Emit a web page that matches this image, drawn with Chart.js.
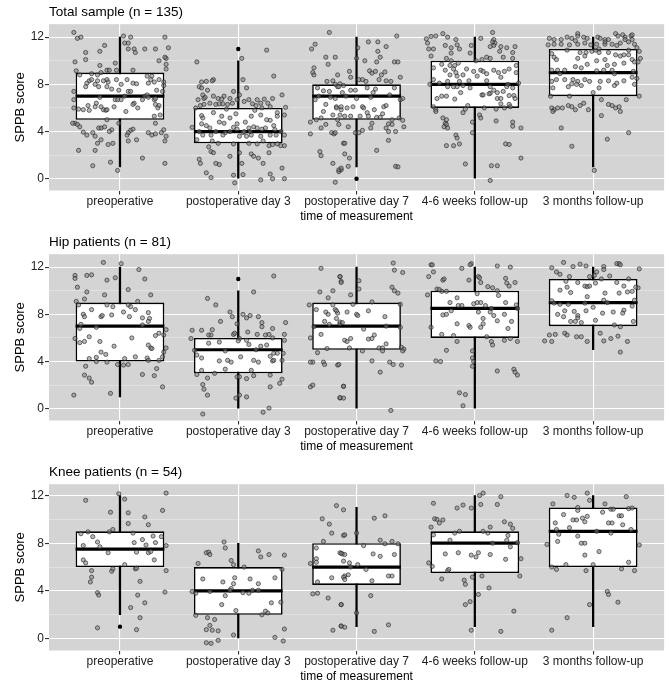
<!DOCTYPE html>
<html><head><meta charset="utf-8">
<script src="https://cdn.jsdelivr.net/npm/chart.js@4.4.0/dist/chart.umd.min.js"></script>
<style>
html,body{margin:0;padding:0;background:#fff;overflow:hidden;width:669px;height:687px;position:relative;}
.panel{position:absolute;left:0;width:669px;height:230px;}
</style></head><body>
<div class="panel" style="top:0"><canvas id="c1"></canvas></div>
<div class="panel" style="top:230px"><canvas id="c2"></canvas></div>
<div class="panel" style="top:460px"><canvas id="c3"></canvas></div>
<script>
// ---------- data ----------
const categories = ['preoperative','postoperative day 3','postoperative day 7','4-6 weeks follow-up','3 months follow-up'];
const yTicks = [0,2,4,6,8,10,12];
const panelTitles = ['Total sample (n = 135)','Hip patients (n = 81)','Knee patients (n = 54)'];

// box statistics
const totalQ1 = [5,3,5,6,7];
const totalMedian = [7,4,7,8,9];
const totalQ3 = [9,6,8,10,11];
const totalLow = [1,0,1,0,1];
const totalHigh = [12,10,12,12,12];
const totalOutliers = [[1,11],[2,0]];

const hipQ1 = [4,3,5,6,7];
const hipMedian = [7,5,7,8.5,9];
const hipQ3 = [9,6,9,10,11];
const hipLow = [1,0,0,0,5];
const hipHigh = [12,10,12,12,12];
const hipOutliers = [[1,11]];

const kneeQ1 = [6,2,4.5,5.5,6];
const kneeMedian = [7.5,4,6,8,9];
const kneeQ3 = [9,6,8,9,11];
const kneeLow = [2,0,1,1,1];
const kneeHigh = [12,8,11,12,12];
const kneeOutliers = [[0,1]];

// jittered observations: [offset from category, SPPB score]
const totalPre = [[-0.39,12.4],[-0.36,11.9],[-0.33,12.0],[0.03,12.1],[0.09,12.0],[0.04,11.5],[0.07,11.5],[0.38,12.0],[0.07,11.0],[0.12,11.0],[0.21,11.0],[0.30,11.0],[-0.13,11.3],[0.41,11.1],[-0.17,10.8],[-0.29,10.7],[0.13,10.7],[0.39,10.2],[0.38,10.3],[0.33,10.0],[-0.29,10.1],[-0.38,9.9],[-0.17,9.6],[-0.04,9.8],[0.39,9.7],[0.39,9.3],[-0.37,9.15],[-0.11,9.2],[-0.09,9.2],[-0.03,9.2],[0.11,9.2],[0.27,8.7],[0.23,8.7],[0.26,8.4],[-0.34,8.8],[-0.24,8.9],[-0.19,8.8],[-0.16,9.0],[-0.11,8.4],[-0.26,8.3],[-0.24,8.4],[-0.19,8.3],[-0.28,8.1],[-0.21,8.0],[-0.14,8.3],[-0.10,8.2],[-0.03,8.4],[0.06,8.4],[0.11,8.1],[0.14,8.05],[0.24,8.1],[0.29,8.2],[0.33,8.4],[0.37,7.9],[0.37,8.2],[0.01,8.0],[-0.29,7.8],[-0.18,7.8],[-0.07,7.6],[-0.01,7.5],[-0.11,7.8],[0.31,7.5],[-0.39,7.4],[0.36,7.4],[0.07,7.4],[0.09,7.4],[-0.17,6.9],[0.04,7.0],[0.21,7.0],[0.23,7.1],[0.24,6.9],[-0.39,6.7],[-0.04,6.7],[-0.02,6.7],[0.01,6.7],[0.19,6.7],[0.29,6.7],[0.30,6.8],[-0.20,6.4],[0.12,6.4],[0.11,6.3],[0.30,6.3],[0.33,6.2],[-0.27,6.2],[-0.21,6.1],[-0.05,6.1],[-0.16,6.1],[-0.39,6.0],[-0.14,5.85],[-0.12,5.8],[-0.11,5.85],[-0.35,5.9],[-0.31,5.85],[-0.26,5.8],[0.15,6.0],[0.32,6.0],[0.05,5.7],[0.34,5.4],[0.29,5.3],[-0.11,5.0],[-0.01,4.7],[0.30,4.7],[-0.38,4.7],[-0.40,4.7],[-0.36,4.6],[-0.34,4.4],[-0.18,4.3],[-0.16,4.3],[-0.13,4.4],[0.09,4.1],[0.11,4.2],[0.37,4.15],[-0.31,3.95],[-0.07,4.15],[-0.09,4.0],[0.07,3.9],[0.06,3.7],[-0.28,3.7],[-0.23,3.9],[-0.21,3.6],[0.24,3.9],[0.27,3.7],[0.30,3.8],[0.35,3.9],[0.39,3.6],[0.14,3.3],[0.07,3.2],[0.38,3.2],[-0.16,3.3],[-0.19,3.0],[-0.10,2.9],[-0.06,3.0],[-0.35,2.4],[-0.21,2.4],[0.19,1.75],[-0.08,1.4],[0.38,1.3],[-0.23,1.1],[-0.02,0.7]];
const totalDay3 = [[-0.35,9.9],[0.03,10.2],[0.24,10.9],[0.30,8.7],[0.07,7.7],[0.04,8.4],[-0.21,8.4],[-0.22,8.3],[-0.27,8.25],[-0.31,8.2],[-0.33,7.8],[-0.31,7.7],[-0.26,7.5],[-0.04,7.4],[-0.12,7.0],[0.01,7.1],[0.37,7.1],[-0.30,7.1],[-0.34,6.7],[-0.29,6.8],[-0.21,7.0],[-0.17,6.8],[-0.14,6.75],[-0.07,6.8],[-0.01,6.7],[0.05,6.55],[0.09,6.7],[0.16,6.7],[0.19,6.4],[0.22,6.75],[0.29,6.8],[0.40,6.05],[-0.36,6.0],[-0.32,6.2],[-0.29,6.3],[-0.24,6.4],[-0.19,6.3],[-0.16,6.35],[-0.13,6.35],[-0.09,6.3],[-0.05,6.4],[0.12,6.35],[0.25,6.4],[0.27,6.1],[0.33,5.6],[0.39,5.4],[-0.31,5.35],[-0.30,5.15],[-0.21,5.6],[-0.14,5.3],[-0.07,5.15],[0.11,5.3],[0.19,5.4],[0.24,5.0],[0.27,4.95],[0.33,5.3],[-0.31,4.65],[-0.27,4.5],[-0.16,4.8],[-0.12,4.7],[-0.01,4.65],[0.06,4.8],[0.13,4.4],[-0.39,4.35],[-0.24,4.3],[-0.04,4.35],[-0.01,4.2],[0.09,4.3],[0.16,4.3],[0.20,4.2],[0.23,4.3],[-0.33,4.0],[-0.19,4.0],[-0.11,3.9],[-0.07,4.0],[0.04,3.9],[0.10,4.0],[0.31,4.15],[0.36,4.0],[-0.30,3.7],[-0.23,3.7],[-0.13,3.7],[0.01,3.6],[0.07,3.6],[0.11,3.7],[0.19,3.6],[0.27,3.7],[0.32,3.7],[0.39,3.7],[-0.22,3.2],[-0.17,3.0],[-0.04,2.95],[0.09,3.0],[0.16,2.95],[0.21,3.2],[0.26,2.8],[0.29,2.9],[0.33,2.95],[0.36,2.8],[0.39,2.8],[-0.23,2.3],[-0.21,2.2],[-0.07,1.9],[0.01,2.2],[0.11,2.1],[0.13,1.9],[0.17,1.75],[0.26,2.2],[-0.33,1.65],[-0.32,1.3],[-0.19,1.3],[-0.16,1.2],[0.03,1.3],[0.21,1.3],[0.37,0.9],[-0.27,0.5],[-0.23,0.1],[-0.04,0.3],[0.04,0.35],[0.27,0.4],[0.19,-0.1],[0.29,0.0],[0.39,0.0],[-0.03,-0.35],[-0.28,6.9],[0.15,6.2],[-0.10,5.9],[0.30,4.5],[-0.35,3.3],[0.20,6.0],[0.05,4.0],[-0.25,2.7],[0.14,5.8],[-0.02,5.5]];
const totalDay7 = [[-0.23,12.4],[-0.35,11.4],[-0.38,11.0],[-0.26,10.3],[-0.18,10.3],[-0.24,9.7],[-0.37,9.0],[-0.36,8.8],[-0.16,8.8],[-0.25,8.25],[-0.20,8.3],[-0.33,7.7],[-0.28,7.45],[-0.23,7.4],[-0.16,7.8],[-0.14,8.05],[-0.35,6.7],[-0.26,6.3],[-0.17,6.1],[-0.13,5.85],[-0.30,5.15],[-0.20,5.4],[-0.16,5.0],[-0.39,4.8],[-0.30,4.3],[-0.21,3.9],[-0.19,3.8],[-0.39,3.8],[-0.11,3.0],[-0.31,2.3],[-0.30,1.95],[-0.20,1.3],[-0.15,0.6],[-0.13,0.75],[-0.18,-0.3],[0.01,11.1],[0.10,11.6],[0.18,11.6],[0.25,11.2],[0.34,12.1],[0.18,10.8],[0.20,10.3],[0.07,10.0],[0.17,9.9],[0.32,9.9],[0.35,9.9],[0.0,10.2],[0.11,9.15],[0.16,9.1],[0.24,9.05],[0.13,8.95],[0.02,8.4],[0.05,8.4],[0.08,8.25],[0.19,8.4],[0.25,8.3],[0.29,8.25],[-0.11,7.9],[-0.05,7.5],[-0.01,7.5],[0.09,7.7],[0.16,7.6],[0.32,7.7],[-0.18,8.0],[-0.15,7.8],[-0.09,7.0],[-0.18,6.8],[0.39,6.8],[0.37,6.7],[-0.17,6.0],[-0.13,6.1],[-0.08,6.0],[-0.03,6.1],[0.05,6.1],[0.06,6.0],[0.15,5.85],[0.23,6.1],[0.25,6.2],[-0.14,5.4],[-0.10,5.3],[-0.05,5.3],[0.03,5.3],[0.10,5.3],[0.17,5.2],[0.20,5.2],[0.30,5.0],[0.36,5.15],[0.39,4.95],[-0.15,4.6],[-0.07,4.4],[0.13,4.7],[0.27,4.65],[0.30,4.6],[0.40,4.4],[-0.18,3.9],[-0.01,3.9],[0.02,3.9],[0.05,4.1],[0.12,4.3],[0.25,4.3],[0.27,4.0],[-0.10,3.0],[0.27,3.25],[0.17,2.4],[-0.10,2.1],[-0.06,1.75],[-0.07,1.05],[-0.15,0.75],[-0.13,0.9],[0.33,1.05],[0.35,1.0],[-0.32,7.0],[-0.22,6.9],[0.28,7.1],[0.12,6.9],[-0.28,5.7],[0.09,5.6],[-0.36,9.4],[0.21,8.8],[-0.05,8.6],[0.33,4.0],[-0.26,4.6],[0.0,6.8],[-0.12,7.3],[0.14,7.3],[0.22,5.5],[-0.06,9.1],[0.37,8.6],[-0.34,5.0]];
const totalWeeks = [[-0.41,11.85],[-0.37,12.06],[-0.33,12.1],[-0.27,12.3],[-0.23,12.0],[-0.40,11.5],[-0.39,11.0],[-0.35,11.0],[-0.25,11.3],[-0.20,11.1],[-0.15,11.35],[-0.13,11.0],[-0.16,11.8],[-0.03,11.3],[0.15,12.4],[0.16,11.8],[0.15,11.6],[0.17,11.5],[0.16,11.3],[0.13,11.2],[0.22,11.2],[0.27,11.1],[0.34,11.2],[0.32,10.7],[0.21,10.8],[0.10,10.3],[0.13,10.2],[0.06,10.1],[-0.37,10.4],[-0.20,10.65],[-0.04,10.65],[-0.24,10.2],[-0.28,9.7],[-0.21,9.6],[-0.17,9.6],[-0.14,9.8],[-0.35,9.4],[-0.18,9.3],[-0.07,9.3],[-0.01,9.1],[0.05,9.2],[0.07,9.1],[0.16,9.2],[0.25,9.1],[0.29,9.3],[0.35,9.0],[-0.21,8.8],[-0.15,8.7],[-0.10,8.8],[0.02,8.7],[0.10,8.9],[0.22,8.6],[-0.35,8.4],[-0.23,8.25],[-0.13,8.25],[0.37,8.1],[-0.23,7.8],[-0.18,7.8],[-0.15,7.8],[-0.10,7.9],[-0.04,7.7],[0.13,7.8],[0.16,7.5],[0.19,7.3],[0.24,7.4],[0.27,7.8],[0.32,7.7],[-0.28,7.0],[-0.24,7.0],[-0.17,6.75],[0.06,7.1],[0.07,7.1],[0.13,7.25],[0.19,6.8],[0.22,6.8],[0.29,7.05],[0.33,7.05],[0.34,6.8],[-0.35,6.1],[-0.33,5.85],[-0.33,5.7],[-0.10,5.6],[0.22,6.35],[0.29,6.3],[0.25,6.0],[-0.27,5.15],[-0.24,5.0],[-0.25,4.7],[-0.24,4.6],[-0.26,4.4],[-0.23,4.3],[0.04,5.4],[0.05,5.15],[0.18,4.9],[0.32,4.8],[0.32,4.45],[0.39,4.3],[-0.02,4.8],[-0.02,3.9],[-0.16,3.7],[-0.15,3.45],[-0.13,2.95],[-0.24,2.8],[-0.18,2.8],[0.26,2.95],[0.29,2.9],[0.39,1.75],[-0.08,1.25],[0.14,1.1],[0.19,1.1],[0.13,-0.15],[-0.30,8.1],[0.08,6.0],[-0.06,6.2],[0.20,9.0],[0.01,10.0],[-0.38,8.0],[0.30,6.1],[-0.12,7.3],[0.10,8.3],[0.35,9.6],[-0.08,5.9],[0.24,10.3],[-0.20,10.0],[0.05,11.9],[-0.32,6.8],[0.18,5.9],[-0.05,8.3],[0.28,8.0],[-0.16,9.0],[0.12,7.2],[0.32,10.2],[-0.25,9.2]];
const totalMonths = [[-0.37,11.9],[-0.33,11.8],[-0.27,11.8],[-0.22,12.0],[-0.18,11.9],[-0.13,12.3],[-0.13,12.1],[-0.08,12.0],[-0.05,11.9],[0.04,12.0],[0.06,11.9],[0.10,11.8],[0.13,11.8],[0.19,12.3],[0.21,12.1],[0.25,12.2],[0.27,12.0],[0.32,12.1],[0.33,12.2],[0.27,11.8],[0.30,11.6],[0.33,11.8],[0.35,11.4],[-0.38,11.35],[-0.33,11.4],[-0.27,11.4],[-0.20,11.35],[-0.13,11.4],[-0.07,11.5],[-0.02,11.35],[0.03,11.4],[0.10,11.4],[0.16,11.4],[0.23,11.5],[0.20,11.3],[0.37,11.1],[0.39,10.8],[0.40,10.2],[0.33,10.1],[0.35,9.9],[0.30,10.5],[0.26,10.5],[0.23,10.4],[0.19,10.5],[0.13,10.7],[0.05,10.7],[0.02,10.9],[-0.01,10.8],[-0.06,10.7],[-0.11,10.7],[-0.07,10.4],[-0.13,10.2],[-0.33,10.3],[-0.31,10.1],[0.03,10.0],[0.10,10.1],[0.18,9.7],[0.26,9.8],[-0.35,9.2],[-0.30,9.2],[-0.24,9.2],[-0.15,9.5],[-0.10,9.4],[0.03,9.15],[0.09,9.2],[0.16,9.2],[0.34,9.1],[-0.35,8.25],[-0.31,8.4],[-0.24,8.4],[-0.17,8.4],[-0.13,8.25],[-0.07,8.4],[-0.03,8.25],[0.06,8.25],[0.13,8.3],[0.26,8.3],[0.33,8.6],[0.37,8.5],[-0.34,7.7],[-0.21,7.8],[-0.18,8.05],[-0.14,8.0],[-0.10,7.9],[0.05,7.7],[0.18,7.9],[0.39,7.0],[-0.35,6.0],[-0.33,5.85],[-0.34,5.7],[-0.30,6.0],[-0.26,6.0],[-0.21,6.2],[-0.18,6.1],[-0.15,5.85],[-0.11,6.2],[-0.04,5.85],[0.07,6.7],[0.16,6.2],[0.19,6.0],[0.22,6.1],[0.23,5.7],[0.13,6.3],[0.07,5.35],[-0.27,4.3],[0.30,3.9],[0.12,3.35],[-0.18,2.75],[0.01,0.7],[0.05,11.0],[-0.22,10.9],[0.30,10.9],[-0.35,10.6],[0.12,9.6],[-0.05,9.7],[0.38,9.9],[-0.28,8.9],[0.20,8.1],[0.0,7.3],[-0.20,7.0],[0.28,6.7],[-0.08,6.4],[0.35,8.0],[0.10,11.6],[-0.15,11.7],[0.18,8.9],[-0.36,7.0]];

const hipPre = [[-0.14,12.4],[0.01,12.3],[-0.38,11.3],[-0.38,11.05],[-0.28,11.3],[-0.24,11.35],[-0.04,11.1],[0.16,11.8],[0.21,11.0],[-0.11,10.9],[-0.36,10.3],[-0.28,9.9],[0.07,10.1],[0.26,9.65],[-0.13,9.65],[-0.30,9.3],[-0.37,9.1],[-0.35,8.8],[-0.24,8.4],[-0.11,8.8],[-0.06,8.65],[0.07,8.8],[0.09,8.65],[0.13,8.4],[0.24,8.15],[0.03,8.2],[-0.31,8.0],[-0.30,7.8],[-0.16,7.8],[-0.15,7.9],[-0.07,7.95],[0.08,7.8],[0.19,7.7],[0.25,7.65],[0.24,7.4],[-0.33,7.15],[-0.34,6.8],[0.19,7.1],[0.33,6.4],[0.39,6.7],[0.37,6.25],[-0.38,5.95],[-0.34,5.6],[-0.30,5.7],[-0.26,6.1],[-0.17,5.7],[0.24,5.4],[0.26,5.15],[0.27,5.1],[0.39,5.15],[-0.16,4.8],[-0.12,4.6],[-0.20,4.35],[-0.26,4.25],[-0.11,3.95],[-0.02,3.75],[0.03,3.7],[0.04,4.25],[0.07,3.75],[0.13,4.4],[0.23,4.3],[0.24,4.1],[0.33,4.1],[0.36,4.4],[0.37,4.8],[-0.29,3.6],[-0.30,2.85],[-0.26,2.6],[-0.24,2.25],[0.31,3.4],[0.19,2.9],[0.29,2.8],[0.36,1.85],[-0.08,1.3],[-0.39,1.15],[0.30,6.2],[-0.20,6.9],[0.10,6.0],[-0.05,5.3],[0.15,9.1],[-0.20,4.0]];
const hipDay3 = [[0.30,11.25],[0.13,9.9],[-0.26,9.35],[-0.19,8.8],[0.04,8.0],[-0.07,8.2],[-0.05,7.8],[0.17,7.8],[0.10,7.9],[0.07,7.7],[-0.15,7.4],[-0.01,7.2],[0.20,7.3],[0.20,6.95],[0.29,6.8],[0.40,7.3],[-0.39,6.65],[-0.31,6.65],[-0.22,6.7],[-0.04,6.3],[-0.03,6.4],[0.08,6.5],[0.16,6.3],[0.23,6.25],[0.26,6.3],[0.39,6.3],[-0.40,5.95],[-0.25,6.25],[-0.23,6.25],[0.01,5.95],[0.07,5.8],[0.29,6.0],[0.39,5.8],[-0.16,5.65],[-0.25,5.55],[0.0,5.75],[0.09,5.45],[0.24,5.4],[0.19,5.3],[-0.37,4.95],[-0.35,4.55],[-0.31,4.3],[-0.11,4.9],[0.30,4.7],[0.33,4.7],[-0.16,4.05],[-0.09,4.1],[-0.06,3.95],[0.02,4.4],[0.13,4.1],[0.17,3.95],[0.27,4.45],[0.29,4.05],[0.30,4.1],[0.37,4.1],[0.38,4.7],[-0.31,3.25],[-0.11,3.35],[0.11,3.25],[-0.35,2.9],[-0.26,2.6],[-0.01,2.7],[0.01,2.7],[0.07,2.55],[0.13,2.8],[0.27,2.85],[0.37,2.5],[0.35,2.15],[0.27,1.85],[-0.30,2.05],[-0.29,1.65],[-0.26,1.15],[-0.02,0.9],[0.01,1.15],[0.07,1.0],[-0.30,-0.45],[0.21,-0.3],[0.26,0.05],[-0.20,3.0],[0.15,5.0]];
const hipDay7 = [[-0.30,11.9],[-0.14,11.2],[-0.13,10.8],[-0.31,9.9],[-0.20,10.0],[-0.24,9.4],[-0.20,8.8],[-0.40,8.8],[-0.34,8.4],[-0.26,8.2],[-0.24,8.0],[-0.16,8.1],[-0.17,7.65],[-0.27,7.4],[-0.23,7.15],[-0.14,7.2],[-0.36,6.95],[-0.30,6.3],[-0.39,6.0],[-0.10,5.8],[-0.33,4.75],[-0.37,3.95],[-0.39,3.95],[-0.28,3.95],[-0.27,3.75],[-0.16,3.7],[-0.11,1.9],[-0.39,1.85],[-0.37,2.0],[-0.14,0.9],[-0.11,0.9],[0.31,12.35],[0.32,11.75],[0.39,11.55],[-0.14,11.2],[-0.13,10.7],[0.02,10.85],[0.02,10.15],[0.30,10.3],[0.32,10.0],[0.35,9.8],[-0.05,9.65],[-0.03,8.85],[0.13,9.05],[-0.18,8.4],[-0.17,8.3],[-0.08,8.2],[0.0,8.0],[0.01,7.9],[0.10,8.3],[0.24,7.8],[0.37,8.85],[-0.14,7.35],[-0.12,7.3],[0.37,6.9],[0.06,6.75],[0.15,6.25],[0.10,5.9],[0.13,5.95],[-0.05,5.95],[-0.08,5.7],[0.25,7.0],[0.25,5.5],[0.19,5.15],[0.22,5.15],[0.22,4.9],[0.38,5.2],[0.40,5.05],[0.39,4.9],[0.05,4.9],[-0.06,5.15],[0.13,4.05],[0.28,3.95],[0.31,3.75],[0.38,3.7],[0.20,3.1],[-0.15,3.75],[-0.11,1.9],[-0.14,0.95],[0.29,-0.15],[-0.25,5.1]];
const hipWeeks = [[-0.37,12.2],[-0.36,12.2],[-0.35,11.6],[-0.39,11.2],[-0.27,10.9],[-0.26,11.0],[-0.11,11.9],[-0.03,12.3],[-0.04,12.2],[0.03,11.2],[0.04,11.1],[0.05,10.7],[0.19,12.1],[0.11,10.35],[0.15,10.25],[0.26,11.05],[0.27,10.65],[0.29,10.4],[0.34,10.7],[-0.40,9.65],[-0.32,10.15],[-0.28,9.95],[-0.24,9.95],[-0.21,9.0],[-0.15,9.4],[-0.11,8.75],[0.02,9.75],[-0.01,8.9],[0.02,9.0],[0.05,9.0],[0.09,8.75],[0.14,8.5],[0.19,10.0],[0.26,9.0],[0.35,8.8],[-0.14,8.75],[-0.27,7.95],[-0.24,8.0],[-0.15,7.2],[-0.05,7.05],[-0.04,6.9],[0.03,8.2],[0.07,7.65],[0.07,7.2],[0.05,6.9],[0.13,8.2],[0.16,7.9],[0.19,7.45],[0.28,6.8],[0.31,7.4],[0.36,8.5],[-0.37,6.9],[-0.28,6.3],[-0.15,5.7],[0.14,5.7],[0.15,5.4],[0.25,5.8],[0.30,5.95],[0.36,5.7],[-0.24,4.95],[-0.02,4.9],[-0.02,4.3],[-0.01,4.0],[-0.02,3.6],[-0.33,4.05],[-0.29,4.0],[0.19,3.2],[0.33,3.35],[0.34,3.1],[0.36,2.85],[-0.13,1.35],[-0.08,1.2],[-0.10,0.25],[-0.30,10.1],[0.20,9.6],[-0.18,6.2],[0.10,6.1],[0.25,8.0],[-0.05,10.9],[0.30,12.0],[-0.20,8.3]];
const hipMonths = [[-0.35,11.95],[-0.31,11.6],[-0.25,12.4],[-0.17,12.05],[-0.11,12.25],[-0.06,12.1],[0.09,12.05],[0.09,11.8],[0.20,12.3],[0.22,12.3],[0.23,12.2],[0.39,11.85],[-0.28,11.4],[0.03,11.6],[0.01,11.3],[-0.03,11.2],[0.14,11.25],[-0.23,10.8],[-0.13,10.7],[-0.07,10.4],[-0.05,10.35],[-0.03,10.4],[0.02,10.65],[0.07,11.0],[0.20,10.7],[0.26,10.4],[0.38,10.25],[-0.28,10.05],[-0.22,10.3],[-0.19,9.85],[0.10,9.8],[0.22,9.8],[0.29,9.9],[0.33,9.95],[0.36,10.3],[-0.35,9.15],[-0.33,8.95],[-0.28,8.85],[-0.21,8.85],[-0.07,8.95],[0.09,9.2],[0.33,8.7],[-0.24,8.3],[-0.16,8.25],[-0.06,8.3],[0.08,8.1],[0.17,8.2],[0.26,8.35],[0.25,8.1],[-0.25,7.8],[-0.13,7.9],[-0.13,7.7],[-0.19,7.4],[-0.15,7.4],[-0.10,7.3],[0.02,7.5],[0.34,7.4],[-0.37,6.25],[-0.32,6.3],[-0.24,6.4],[-0.22,6.25],[-0.14,6.1],[-0.10,6.1],[0.06,6.4],[0.21,6.15],[0.23,6.95],[-0.41,5.75],[-0.35,5.7],[-0.05,5.7],[0.09,5.75],[0.15,5.95],[0.29,5.7],[0.23,4.8],[0.12,9.0],[-0.30,8.0],[0.30,11.0],[-0.05,9.5],[0.18,7.1],[-0.20,11.2],[0.35,9.2],[0.0,8.6]];

const kneePre = [[-0.29,11.6],[-0.01,12.15],[0.04,11.7],[0.39,12.2],[-0.08,10.6],[0.07,10.55],[0.21,10.2],[0.24,9.55],[0.36,10.75],[0.07,9.65],[-0.33,8.8],[-0.27,8.95],[-0.23,8.55],[-0.19,8.1],[-0.17,7.7],[-0.31,7.8],[-0.09,8.95],[-0.06,9.15],[0.11,8.85],[0.19,8.3],[0.12,8.05],[0.28,8.6],[0.30,8.05],[0.35,8.55],[0.39,7.8],[-0.10,7.2],[0.14,7.25],[0.24,7.2],[0.22,7.85],[0.26,7.3],[0.29,6.6],[-0.31,6.6],[-0.29,6.35],[0.04,6.2],[-0.24,5.7],[-0.07,5.65],[-0.06,5.85],[0.13,5.85],[0.14,5.9],[0.39,5.7],[-0.24,5.15],[-0.25,4.75],[0.17,4.8],[-0.19,3.85],[-0.18,3.65],[0.15,3.65],[0.38,3.9],[0.21,3.0],[0.09,2.6],[0.17,1.75],[-0.19,0.9],[0.14,0.75]];
const kneeDay3 = [[-0.12,8.1],[-0.11,7.6],[-0.27,7.2],[-0.25,7.25],[-0.24,7.05],[-0.06,6.55],[0.17,7.35],[0.26,7.05],[0.19,6.85],[0.39,7.0],[-0.34,6.3],[-0.04,6.2],[0.37,5.8],[-0.03,5.1],[0.10,5.0],[0.31,5.1],[-0.13,4.75],[-0.04,4.6],[0.17,4.6],[-0.39,3.95],[-0.36,3.8],[-0.24,3.95],[-0.06,4.2],[-0.07,4.05],[0.04,3.85],[0.09,3.8],[0.12,4.05],[0.17,4.05],[-0.11,3.6],[0.28,3.0],[0.36,3.05],[-0.14,2.85],[-0.02,2.35],[0.23,2.3],[0.25,2.15],[-0.36,1.95],[-0.26,1.75],[-0.20,1.6],[-0.24,1.1],[-0.22,0.7],[-0.27,0.75],[-0.17,0.65],[-0.04,0.3],[0.39,0.8],[0.31,0.1],[0.38,-0.2],[-0.27,-0.35],[-0.23,-0.4],[-0.17,-0.15],[0.05,6.0],[-0.30,5.0],[0.20,2.0]];
const kneeDay7 = [[-0.17,11.15],[-0.11,10.8],[-0.29,10.05],[-0.23,9.6],[-0.21,8.85],[-0.28,8.15],[-0.11,8.65],[-0.34,7.6],[-0.39,6.3],[-0.34,6.7],[-0.34,6.4],[-0.14,7.2],[-0.12,7.1],[-0.11,6.5],[-0.33,4.75],[-0.21,5.1],[-0.10,5.25],[-0.37,3.75],[-0.33,3.8],[-0.24,3.4],[-0.13,2.85],[-0.20,0.7],[-0.13,1.05],[0.15,10.1],[0.24,10.3],[-0.10,8.7],[0.0,8.85],[0.20,8.25],[0.24,7.95],[0.30,8.15],[0.35,7.95],[0.06,7.8],[-0.13,7.15],[-0.10,7.05],[0.14,7.1],[0.32,7.05],[-0.06,6.35],[0.01,6.2],[0.08,5.8],[-0.07,5.35],[-0.11,5.15],[-0.10,4.95],[0.13,4.85],[0.27,5.25],[0.30,5.25],[0.12,3.6],[-0.13,2.85],[0.0,2.15],[-0.13,1.05],[-0.10,0.95],[0.15,0.6],[0.27,1.15],[-0.05,6.0],[0.20,6.9]];
const kneeWeeks = [[0.04,12.0],[0.07,12.2],[0.22,11.9],[0.05,11.25],[-0.03,10.95],[0.19,11.25],[-0.35,11.35],[-0.15,10.95],[-0.34,10.05],[-0.30,9.7],[-0.27,9.95],[-0.37,9.35],[-0.32,10.0],[0.25,9.8],[0.32,9.25],[0.13,9.35],[-0.17,8.85],[-0.13,9.0],[0.07,9.0],[0.11,8.85],[-0.35,8.7],[0.28,8.65],[-0.21,8.25],[0.27,8.25],[0.36,8.05],[0.30,7.7],[0.13,7.05],[-0.14,7.2],[-0.03,7.0],[0.01,6.85],[0.03,7.2],[0.26,6.65],[0.39,6.7],[-0.39,6.35],[-0.36,6.05],[-0.23,5.7],[-0.22,5.8],[0.38,5.25],[-0.28,5.0],[-0.02,5.15],[0.06,5.25],[-0.09,4.9],[-0.08,4.55],[0.12,4.25],[0.03,3.7],[-0.04,3.1],[-0.08,2.85],[0.33,2.3],[-0.03,0.7],[0.22,0.6],[0.15,8.0],[-0.25,7.1],[0.30,9.6],[-0.10,11.2]];
const kneeMonths = [[-0.22,12.0],[-0.16,11.85],[-0.05,12.2],[-0.03,11.6],[-0.34,11.3],[-0.13,11.0],[-0.13,10.75],[0.08,10.6],[0.15,10.85],[0.17,10.85],[0.30,10.9],[0.33,10.95],[-0.17,9.95],[-0.14,9.95],[-0.09,10.1],[-0.05,10.25],[-0.07,9.8],[0.22,10.3],[0.24,10.3],[-0.32,9.7],[0.13,9.7],[0.16,9.7],[0.25,9.55],[-0.31,9.15],[0.32,9.15],[0.03,9.0],[0.15,8.85],[-0.29,8.75],[-0.13,8.6],[-0.30,8.15],[-0.10,8.0],[-0.07,8.0],[-0.39,7.9],[0.39,7.85],[-0.07,7.0],[-0.23,6.2],[0.0,6.2],[-0.35,6.0],[-0.31,5.8],[-0.06,5.7],[0.24,5.85],[0.35,5.7],[0.12,3.95],[0.13,3.7],[0.21,3.05],[-0.03,2.85],[-0.22,1.75],[-0.35,0.7],[0.28,11.9],[-0.25,10.4],[0.05,7.3],[0.30,6.4],[-0.20,9.3],[0.10,11.3]];

const totalPts = [totalPre,totalDay3,totalDay7,totalWeeks,totalMonths];
const hipPts = [hipPre,hipDay3,hipDay7,hipWeeks,hipMonths];
const kneePts = [kneePre,kneeDay3,kneeDay7,kneeWeeks,kneeMonths];

// ---------- drawing ----------
const FONT = "'Liberation Sans', Arial, sans-serif";
const BOX_WIDTH = 0.75;

const panelBg = {
  id: 'panelBg',
  beforeDraw(chart) {
    const {ctx, chartArea: a} = chart;
    ctx.save();
    ctx.fillStyle = '#d4d4d4';
    ctx.fillRect(a.left, a.top, a.right - a.left, a.bottom - a.top);
    ctx.restore();
  }
};

function halfBox(chart) {
  const s = chart.scales.x;
  return s.getPixelForValue(BOX_WIDTH / 2) - s.getPixelForValue(0);
}

function makePanel(id, title, q1, med, q3, lo, hi, pts, outl, yMin, yMax) {
  const idx = categories.map((_, i) => i);
  const isMajor = c => c.tick && c.tick.value % 4 === 0;
  new Chart(document.getElementById(id), {
    type: 'bar',
    plugins: [panelBg],
    data: {
      datasets: [
        { type: 'bar', data: idx.map(i => ({x: i, y: [lo[i], hi[i]]})),
          backgroundColor: '#000', borderWidth: 0, barThickness: 1.6, grouped: false, order: 5 },
        { type: 'bar', data: idx.map(i => ({x: i, y: [q1[i], q3[i]]})),
          backgroundColor: '#fff', borderColor: '#000', borderWidth: 1.6, borderSkipped: false,
          barPercentage: BOX_WIDTH, categoryPercentage: 1, grouped: false, order: 4 },
        { type: 'scatter', data: idx.map(i => ({x: i, y: med[i]})),
          pointStyle: 'line', borderColor: '#000', borderWidth: 3.2,
          pointRadius: c => halfBox(c.chart), order: 3 },
        { type: 'scatter', data: pts.flatMap((col, i) => col.map(p => ({x: i + p[0], y: p[1]}))),
          backgroundColor: 'rgba(125,125,125,0.55)', borderColor: 'rgba(35,35,35,0.7)',
          borderWidth: 0.9, pointRadius: 2.1, order: 2 },
        { type: 'scatter', data: outl.map(o => ({x: o[0], y: o[1]})),
          backgroundColor: '#000', borderColor: '#000', borderWidth: 0, pointRadius: 2.2, order: 1 }
      ]
    },
    options: {
      responsive: true,
      maintainAspectRatio: false,
      animation: false,
      events: [],
      layout: { padding: 0 },
      plugins: {
        legend: { display: false },
        tooltip: { enabled: false },
        title: { display: true, text: title, align: 'start', fullSize: false, color: '#000',
          font: { family: FONT, size: 13.5, weight: 'normal' }, padding: { top: 4, bottom: 4 } }
      },
      scales: {
        x: {
          type: 'linear', min: -0.6, max: 4.6, offset: false,
          afterBuildTicks: s => { s.ticks = idx.map(i => ({value: i})); },
          afterFit: s => { s.height = 39.5; },
          ticks: { callback: v => categories[v], color: '#222', font: { family: FONT, size: 12 },
            padding: 0, maxRotation: 0, autoSkip: false },
          grid: { offset: false, color: '#fff', lineWidth: 1.1, tickLength: 4, tickColor: '#333' },
          border: { display: false },
          title: { display: true, text: 'time of measurement', color: '#000',
            font: { family: FONT, size: 12 }, padding: { top: 0, bottom: 5.8 } }
        },
        y: {
          min: yMin, max: yMax,
          afterBuildTicks: s => { s.ticks = yTicks.map(v => ({value: v})); },
          afterFit: s => { s.width = 49; },
          ticks: { callback: v => (v % 4 === 0 ? String(v) : ''), color: '#222',
            font: { family: FONT, size: 12 }, padding: 1, autoSkip: false },
          grid: { color: c => isMajor(c) ? '#fff' : 'rgba(255,255,255,0.55)',
            lineWidth: c => isMajor(c) ? 1.1 : 0.6, tickLength: 4,
            tickColor: c => isMajor(c) ? '#333' : 'rgba(0,0,0,0)' },
          border: { display: false },
          title: { display: true, text: 'SPPB score', color: '#000',
            font: { family: FONT, size: 13 }, padding: { top: 13, bottom: 0 } }
        }
      }
    }
  });
}

makePanel('c1', panelTitles[0], totalQ1, totalMedian, totalQ3, totalLow, totalHigh, totalPts, totalOutliers, -1.0, 13.1);
makePanel('c2', panelTitles[1], hipQ1, hipMedian, hipQ3, hipLow, hipHigh, hipPts, hipOutliers, -1.0, 13.1);
makePanel('c3', panelTitles[2], kneeQ1, kneeMedian, kneeQ3, kneeLow, kneeHigh, kneePts, kneeOutliers, -1.0, 12.95);
</script>
</body></html>
